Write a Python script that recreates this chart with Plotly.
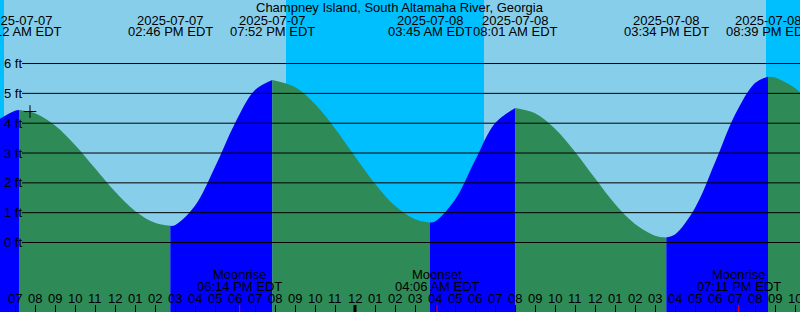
import pandas as pd
import plotly.graph_objects as go

station = "Champney Island, South Altamaha River, Georgia"
tz_label = "EDT"

# Tide curve readings (local time, feet)
curve_times = [
    "2025-07-07 06:15", "2025-07-07 07:00", "2025-07-07 07:12",
    "2025-07-07 08:00", "2025-07-07 09:00", "2025-07-07 10:00", "2025-07-07 11:00",
    "2025-07-07 12:00", "2025-07-07 13:00", "2025-07-07 14:00", "2025-07-07 14:46",
    "2025-07-07 15:00", "2025-07-07 16:00", "2025-07-07 17:00", "2025-07-07 18:00",
    "2025-07-07 19:00", "2025-07-07 19:52",
    "2025-07-07 21:00", "2025-07-07 22:00", "2025-07-07 23:00", "2025-07-08 00:00",
    "2025-07-08 01:00", "2025-07-08 02:00", "2025-07-08 03:00", "2025-07-08 03:45",
    "2025-07-08 04:00", "2025-07-08 05:00", "2025-07-08 06:00", "2025-07-08 07:00",
    "2025-07-08 08:01",
    "2025-07-08 09:00", "2025-07-08 10:00", "2025-07-08 11:00", "2025-07-08 12:00",
    "2025-07-08 13:00", "2025-07-08 14:00", "2025-07-08 15:00", "2025-07-08 15:34",
    "2025-07-08 16:00", "2025-07-08 17:00", "2025-07-08 18:00", "2025-07-08 19:00",
    "2025-07-08 20:00", "2025-07-08 20:39",
    "2025-07-08 21:00", "2025-07-08 22:00", "2025-07-08 22:15",
]
curve_heights = [
    4.15, 4.42, 4.44,
    4.33, 3.92, 3.27, 2.49,
    1.71, 1.06, 0.66, 0.56,
    0.58, 1.23, 2.53, 4.00,
    5.11, 5.45,
    5.21, 4.64, 3.82, 2.88,
    1.97, 1.23, 0.78, 0.67,
    0.70, 1.43, 2.75, 4.00,
    4.51,
    4.33, 3.81, 3.04, 2.15,
    1.29, 0.62, 0.23, 0.17,
    0.27, 1.16, 2.68, 4.28,
    5.35, 5.56,
    5.53, 5.18, 5.03,
]

# High / low tide events
ext_times = ["2025-07-07 07:12", "2025-07-07 14:46", "2025-07-07 19:52",
             "2025-07-08 03:45", "2025-07-08 08:01", "2025-07-08 15:34",
             "2025-07-08 20:39"]
ext_heights = [4.44, 0.56, 5.45, 0.67, 4.51, 0.17, 5.56]

# Sun and moon
sunrise_times = ["2025-07-07 06:27", "2025-07-08 06:27"]
sunset_times = ["2025-07-07 20:33", "2025-07-08 20:33"]
moon_times = ["2025-07-07 18:14", "2025-07-08 04:06", "2025-07-08 19:11"]
moon_labels = ["Moonrise", "Moonset", "Moonrise"]

# Current time marker
now_time = "2025-07-07 07:45"
now_height = 4.39

levels = [0, 1, 2, 3, 4, 5, 6]

x_start = "2025-07-07 06:15"
x_end = "2025-07-08 22:15"
y_min, y_max = -2.33, 8.13

DAY = "#87CEEB"
NIGHT = "#00BFFF"
RISE = "#0000FF"
FALL = "#2E8B57"
FONT = "Liberation Sans"
W, H = 800, 312

t = pd.to_datetime(pd.Series(curve_times))
h = pd.Series(curve_heights)

fig = go.Figure()

bounds = [pd.Timestamp(x_start)] + [pd.Timestamp(s) for s in ext_times] + [pd.Timestamp(x_end)]
for a, b in zip(bounds[:-1], bounds[1:]):
    m = (t >= a) & (t <= b)
    xs = t[m].tolist()
    ys = h[m].tolist()
    color = RISE if ys[-1] > ys[0] else FALL
    fig.add_trace(go.Scatter(x=[xs[0], xs[-1]], y=[y_min, y_min], mode="lines",
                             line=dict(width=0), hoverinfo="skip", showlegend=False))
    fig.add_trace(go.Scatter(x=xs, y=ys, mode="lines", fill="tonexty",
                             fillcolor=color, line=dict(width=0, shape="spline", color=color),
                             hoverinfo="skip", showlegend=False))

fig.add_trace(go.Scatter(x=[now_time], y=[now_height], mode="markers",
                         marker=dict(symbol="cross-thin", size=9,
                                     line=dict(width=1, color="black")),
                         hoverinfo="skip", showlegend=False))

shapes = []
# night bands
edges = [x_start] + sorted(sunrise_times + sunset_times) + [x_end]
night = pd.Timestamp(sunrise_times[0]) < pd.Timestamp(sunset_times[0])
for a, b in zip(edges[:-1], edges[1:]):
    if night:
        shapes.append(dict(type="rect", xref="x", yref="paper", x0=a, x1=b, y0=0, y1=1,
                           fillcolor=NIGHT, line=dict(width=0), layer="below"))
    night = not night

# level lines
for lv in levels:
    shapes.append(dict(type="line", xref="paper", yref="y", x0=22 / W, x1=1, y0=lv, y1=lv,
                       line=dict(color="black", width=1), layer="above"))

# midnight ticks
hours = pd.date_range(pd.Timestamp(x_start).floor("h"), pd.Timestamp(x_end), freq="h")
for hr in hours:
    if hr.hour == 0:
        shapes.append(dict(type="line", xref="x", yref="paper", x0=hr, x1=hr, y0=0, y1=7 / H,
                           line=dict(color="black", width=3), layer="above"))
for mt in moon_times:
    shapes.append(dict(type="line", xref="x", yref="paper", x0=mt, x1=mt, y0=0, y1=7 / H,
                       line=dict(color="red", width=1), layer="above"))

ann = []
def txt(x, ypx, text, xref="x", xanchor="center"):
    ann.append(dict(x=x, xref=xref, y=1 - ypx / H, yref="paper", text=text, showarrow=False,
                    xanchor=xanchor, yanchor="middle", font=dict(family=FONT, size=13, color="black")))

txt(0.5, 7.5, station, xref="paper")
for et in ext_times:
    ts = pd.Timestamp(et)
    txt(et, 20, ts.strftime("%Y-%m-%d"))
    txt(et, 32, ts.strftime("%I:%M %p ") + tz_label)

for lv in levels:
    ann.append(dict(x=0, xref="paper", xshift=2, y=lv, yref="y", text=f"{lv} ft",
                    showarrow=False, xanchor="left", yanchor="middle",
                    font=dict(family=FONT, size=13, color="black")))

for hr in hours:
    txt(hr, 298, hr.strftime("%I"))

for mt, ml in zip(moon_times, moon_labels):
    ts = pd.Timestamp(mt)
    txt(mt, 274, ml)
    txt(mt, 286, ts.strftime("%I:%M %p ") + tz_label)

fig.update_layout(
    width=W, height=H, margin=dict(l=0, r=0, t=0, b=0),
    plot_bgcolor=DAY, paper_bgcolor=DAY,
    shapes=shapes, annotations=ann, showlegend=False,
    xaxis=dict(range=[x_start, x_end], showgrid=False, zeroline=False, showline=False,
               ticks="inside", ticklen=7, tickwidth=1, tickcolor="black",
               tick0="2025-07-07 00:00", dtick=3600000, showticklabels=False),
    yaxis=dict(range=[y_min, y_max], visible=False, showgrid=False, zeroline=False),
)

fig.write_html("out.html", config={"displayModeBar": False})
